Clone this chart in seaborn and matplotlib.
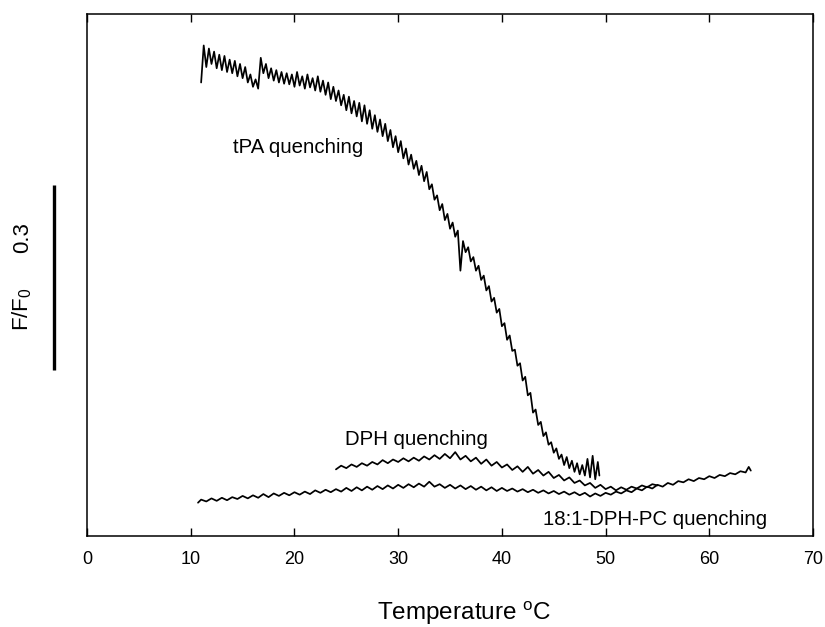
import numpy as np
import pandas as pd
import matplotlib
matplotlib.use("Agg")
import matplotlib.pyplot as plt
import matplotlib.transforms as mtransforms
import seaborn as sns

# ---------------- data ----------------
tpa_temp = [11.00, 11.25, 11.50, 11.75, 12.00, 12.25, 12.50, 12.75, 13.00, 13.25, 13.50, 13.75,
            14.00, 14.25, 14.50, 14.75, 15.00, 15.25, 15.50, 15.75, 16.00, 16.25, 16.50, 16.75,
            17.00, 17.25, 17.50, 17.75, 18.00, 18.25, 18.50, 18.75, 19.00, 19.25, 19.50, 19.75,
            20.00, 20.25, 20.50, 20.75, 21.00, 21.25, 21.50, 21.75, 22.00, 22.25, 22.50, 22.75,
            23.00, 23.25, 23.50, 23.75, 24.00, 24.25, 24.50, 24.75, 25.00, 25.25, 25.50, 25.75,
            26.00, 26.25, 26.50, 26.75, 27.00, 27.25, 27.50, 27.75, 28.00, 28.25, 28.50, 28.75,
            29.00, 29.25, 29.50, 29.75, 30.00, 30.25, 30.50, 30.75, 31.00, 31.25, 31.50, 31.75,
            32.00, 32.25, 32.50, 32.75, 33.00, 33.25, 33.50, 33.75, 34.00, 34.25, 34.50, 34.75,
            35.00, 35.25, 35.50, 35.75, 36.00, 36.25, 36.50, 36.75, 37.00, 37.25, 37.50, 37.75,
            38.00, 38.25, 38.50, 38.75, 39.00, 39.25, 39.50, 39.75, 40.00, 40.25, 40.50, 40.75,
            41.00, 41.25, 41.50, 41.75, 42.00, 42.25, 42.50, 42.75, 43.00, 43.25, 43.50, 43.75,
            44.00, 44.25, 44.50, 44.75, 45.00, 45.25, 45.50, 45.75, 46.00, 46.25, 46.50, 46.75,
            47.00, 47.25, 47.50, 47.75, 48.00, 48.25, 48.50, 48.75, 49.00, 49.25, 49.40]
tpa_ff0 = [0.735, 0.795, 0.760, 0.790, 0.765, 0.785, 0.758, 0.780, 0.755, 0.778, 0.752, 0.772,
           0.750, 0.770, 0.745, 0.765, 0.742, 0.760, 0.735, 0.748, 0.728, 0.740, 0.725, 0.775,
           0.750, 0.765, 0.742, 0.758, 0.738, 0.755, 0.735, 0.752, 0.733, 0.750, 0.732, 0.748,
           0.728, 0.752, 0.730, 0.745, 0.725, 0.748, 0.727, 0.742, 0.722, 0.745, 0.720, 0.738,
           0.715, 0.735, 0.708, 0.728, 0.705, 0.722, 0.698, 0.715, 0.690, 0.712, 0.685, 0.705,
           0.680, 0.702, 0.672, 0.698, 0.668, 0.690, 0.660, 0.682, 0.655, 0.675, 0.648, 0.668,
           0.640, 0.658, 0.630, 0.648, 0.622, 0.640, 0.612, 0.628, 0.602, 0.618, 0.595, 0.608,
           0.585, 0.600, 0.575, 0.590, 0.562, 0.570, 0.545, 0.552, 0.528, 0.538, 0.512, 0.522,
           0.498, 0.508, 0.485, 0.495, 0.430, 0.478, 0.460, 0.468, 0.445, 0.452, 0.430, 0.438,
           0.415, 0.422, 0.398, 0.405, 0.380, 0.386, 0.362, 0.368, 0.340, 0.345, 0.318, 0.325,
           0.300, 0.302, 0.276, 0.280, 0.252, 0.258, 0.228, 0.232, 0.200, 0.205, 0.180, 0.185,
           0.162, 0.168, 0.148, 0.152, 0.135, 0.142, 0.125, 0.132, 0.115, 0.128, 0.110, 0.122,
           0.104, 0.118, 0.100, 0.115, 0.098, 0.125, 0.095, 0.130, 0.092, 0.120, 0.098]

dph_temp = [24.0, 24.5, 25.0, 25.5, 26.0, 26.5, 27.0, 27.5, 28.0, 28.5, 29.0, 29.5,
            30.0, 30.5, 31.0, 31.5, 32.0, 32.5, 33.0, 33.5, 34.0, 34.5, 35.0, 35.5,
            36.0, 36.5, 37.0, 37.5, 38.0, 38.5, 39.0, 39.5, 40.0, 40.5, 41.0, 41.5,
            42.0, 42.5, 43.0, 43.5, 44.0, 44.5, 45.0, 45.5, 46.0, 46.5, 47.0, 47.5,
            48.0, 48.5, 49.0, 49.5, 50.0, 50.5, 51.0, 51.5, 52.0, 52.5, 53.0, 53.5,
            54.0, 54.5, 55.0]
dph_ff0 = [0.108, 0.114, 0.110, 0.116, 0.112, 0.118, 0.114, 0.120, 0.116, 0.123, 0.118, 0.124,
           0.120, 0.126, 0.121, 0.127, 0.122, 0.129, 0.124, 0.131, 0.125, 0.133, 0.126, 0.136,
           0.124, 0.130, 0.121, 0.127, 0.117, 0.124, 0.114, 0.120, 0.111, 0.116, 0.107, 0.113,
           0.104, 0.112, 0.101, 0.107, 0.098, 0.104, 0.094, 0.099, 0.090, 0.095, 0.086, 0.090,
           0.082, 0.086, 0.078, 0.083, 0.076, 0.080, 0.074, 0.079, 0.075, 0.080, 0.077, 0.082,
           0.079, 0.084, 0.082]

pc_temp = [10.7, 11.0, 11.5, 12.0, 12.5, 13.0, 13.5, 14.0, 14.5, 15.0, 15.5, 16.0, 16.5,
           17.0, 17.5, 18.0, 18.5, 19.0, 19.5, 20.0, 20.5, 21.0, 21.5, 22.0, 22.5,
           23.0, 23.5, 24.0, 24.5, 25.0, 25.5, 26.0, 26.5, 27.0, 27.5, 28.0, 28.5,
           29.0, 29.5, 30.0, 30.5, 31.0, 31.5, 32.0, 32.5, 33.0, 33.5, 34.0, 34.5,
           35.0, 35.5, 36.0, 36.5, 37.0, 37.5, 38.0, 38.5, 39.0, 39.5, 40.0, 40.5,
           41.0, 41.5, 42.0, 42.5, 43.0, 43.5, 44.0, 44.5, 45.0, 45.5, 46.0, 46.5,
           47.0, 47.5, 48.0, 48.5, 49.0, 49.5, 50.0, 50.5, 51.0, 51.5, 52.0, 52.5,
           53.0, 53.5, 54.0, 54.5, 55.0, 55.5, 56.0, 56.5, 57.0, 57.5, 58.0, 58.5,
           59.0, 59.5, 60.0, 60.5, 61.0, 61.5, 62.0, 62.5, 63.0, 63.5, 63.8, 64.0]
pc_ff0 = [0.054, 0.059, 0.056, 0.061, 0.057, 0.062, 0.058, 0.063, 0.060, 0.065, 0.061, 0.066, 0.062,
          0.068, 0.063, 0.069, 0.065, 0.070, 0.066, 0.071, 0.067, 0.072, 0.068, 0.074, 0.070,
          0.075, 0.071, 0.076, 0.072, 0.078, 0.073, 0.079, 0.074, 0.080, 0.075, 0.081, 0.076,
          0.082, 0.077, 0.083, 0.078, 0.084, 0.079, 0.085, 0.080, 0.088, 0.080, 0.084, 0.078,
          0.083, 0.077, 0.082, 0.076, 0.081, 0.075, 0.080, 0.074, 0.079, 0.073, 0.078, 0.073,
          0.077, 0.072, 0.076, 0.071, 0.075, 0.070, 0.074, 0.069, 0.073, 0.068, 0.072, 0.067,
          0.071, 0.066, 0.070, 0.064, 0.069, 0.065, 0.070, 0.067, 0.072, 0.069, 0.074, 0.071,
          0.077, 0.074, 0.080, 0.077, 0.083, 0.080, 0.086, 0.083, 0.089, 0.087, 0.092, 0.089,
          0.094, 0.092, 0.097, 0.094, 0.099, 0.097, 0.102, 0.100, 0.105, 0.103, 0.112, 0.106]

series_labels = ["tPA quenching", "DPH quenching", "18:1-DPH-PC quenching"]
x_ticks = [0, 10, 20, 30, 40, 50, 60, 70]
scale_bar = 0.3

# ---------------- figure ----------------
sns.set_style("ticks")
plt.rcParams["font.family"] = ["Liberation Sans", "DejaVu Sans"]
plt.rcParams["mathtext.fontset"] = "custom"
plt.rcParams["mathtext.rm"] = "Liberation Sans"
plt.rcParams["mathtext.it"] = "Liberation Sans"
plt.rcParams["text.color"] = "black"
plt.rcParams["axes.labelcolor"] = "black"
plt.rcParams["xtick.color"] = "black"
plt.rcParams["axes.edgecolor"] = "black"

fig = plt.figure(figsize=(8.25, 6.27), dpi=100)
ax = fig.add_axes([0.1055, 0.1451, 0.88, 0.8326])

for xs, ys in [(tpa_temp, tpa_ff0), (dph_temp, dph_ff0), (pc_temp, pc_ff0)]:
    df = pd.DataFrame({"T": xs, "F": ys})
    sns.lineplot(data=df, x="T", y="F", ax=ax, color="black", linewidth=1.25,
                 sort=False, estimator=None)

ax.set_xlim(0, 70)
ax.set_ylim(0, 0.846)
ax.set_xticks(x_ticks)
ax.set_xticklabels([str(t) for t in x_ticks], fontsize=13)
ax.set_yticks([])
ax.tick_params(axis="x", direction="in", length=6, width=1, top=True, bottom=True,
               labeltop=False, pad=11)
for s in ax.spines.values():
    s.set_linewidth(1.1)
    s.set_color("black")

ax.set_xlabel("Temperature $^{\\mathregular{o}}$C", fontsize=17.5)
ax.xaxis.label.set_va("baseline")
ax.xaxis.set_label_coords(0.52, -0.160)
ax.set_ylabel("")

# curve labels
ax.text(14.1, 0.630, series_labels[0], fontsize=14.7, ha="left", va="center")
ax.text(24.9, 0.156, series_labels[1], fontsize=14.7, ha="left", va="center")
ax.text(44.0, 0.026, series_labels[2], fontsize=14.7, ha="left", va="center")

# vertical scale bar (0.3 F/F0) outside the axes
trans = mtransforms.blended_transform_factory(ax.transAxes, ax.transData)
ax.plot([-0.045, -0.045], [0.269, 0.269 + scale_bar], transform=trans,
        color="black", linewidth=2.4, clip_on=False, solid_capstyle="butt")
ax.text(-0.089, 0.368, "F/F$_{\\mathregular{0}}$", transform=trans,
        rotation=90, fontsize=16, ha="center", va="center")
ax.text(-0.089, 0.483, f"{scale_bar}", transform=trans,
        rotation=90, fontsize=16, ha="center", va="center")

fig.savefig("out.png", dpi=100)
